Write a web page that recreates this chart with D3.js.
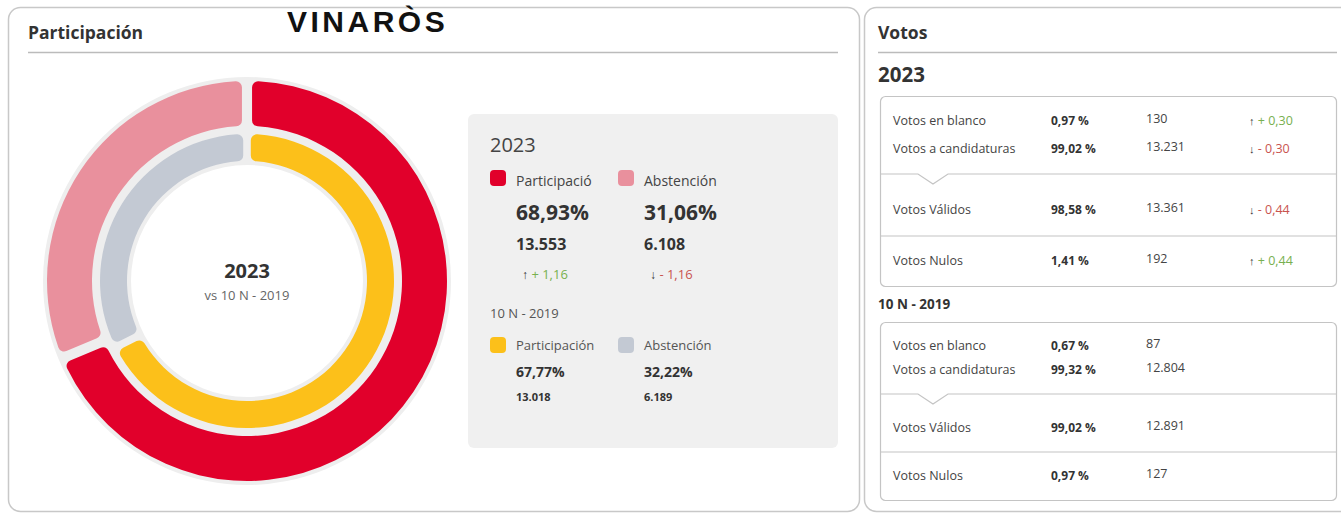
<!DOCTYPE html>
<html>
<head>
<meta charset="utf-8">
<script src="https://cdn.jsdelivr.net/npm/d3@7"></script>
<style>
  body { margin: 0; background: #fff; }
  svg { display: block; font-family: "Open Sans", sans-serif; }
</style>
</head>
<body>
<div id="chart"></div>
<script>
// --- data ---
var years = ["2023", "10 N - 2019"];
var partLabels2023 = ["Participació", "Abstención"];
var partLabels2019 = ["Participación", "Abstención"];
var part2023 = [68.93, 31.06];
var count2023 = [13553, 6108];
var partDiff = [1.16, -1.16];
var part2019 = [67.77, 32.22];
var count2019 = [13018, 6189];
var colors2023 = ["#e1002b", "#e9909d"];
var colors2019 = ["#fcc01a", "#c3c9d3"];

var votosLabels = ["Votos en blanco", "Votos a candidaturas", "Votos Válidos", "Votos Nulos"];
var votos2023Pct = [0.97, 99.02, 98.58, 1.41];
var votos2023Num = [130, 13231, 13361, 192];
var votos2023Diff = [0.30, -0.30, -0.44, 0.44];
var votos2019Pct = [0.67, 99.32, 99.02, 0.97];
var votos2019Num = [87, 12804, 12891, 127];

var W = 1341, H = 515;
var es = d3.formatLocale({decimal: ",", thousands: ".", grouping: [3], currency: ["", "€"]});
var fmtPct = es.format(".2f");
var fmtNum = es.format(",d");
var green = "#78b04f", red = "#c9544f";

var svg = d3.select("#chart").append("svg")
	.attr("width", W)
	.attr("height", H);

// panels
svg.append("rect").attr("x", 8.5).attr("y", 7.5).attr("width", 851).attr("height", 504)
	.attr("rx", 12).attr("fill", "none").attr("stroke", "#c8c8c8").attr("stroke-width", 1.5);
svg.append("rect").attr("x", 864.5).attr("y", 7.5).attr("width", 490).attr("height", 504)
	.attr("rx", 12).attr("fill", "none").attr("stroke", "#c8c8c8").attr("stroke-width", 1.5);

svg.append("text").attr("x", 28).attr("y", 39).attr("font-size", 17.5).attr("font-weight", 700)
	.attr("fill", "#333").text("Participación");
svg.append("line").attr("x1", 28).attr("x2", 838).attr("y1", 52.5).attr("y2", 52.5)
	.attr("stroke", "#bbb").attr("stroke-width", 1.5);
svg.append("text").attr("x", 287).attr("y", 32).attr("font-size", 30).attr("font-weight", 700)
	.attr("font-family", "Liberation Sans, Arial, sans-serif").attr("letter-spacing", 3.5)
	.attr("fill", "#111").text("VINARÒS");

// --- donut ---
var cx = 247, cy = 281;
var g = svg.append("g").attr("transform", "translate(" + cx + "," + cy + ")");

g.append("path")
	.attr("d", d3.arc().innerRadius(116).outerRadius(204).startAngle(0).endAngle(2 * Math.PI)())
	.attr("fill", "#eeeeee");

var pie = d3.pie().sort(null).padAngle(0.04);
var outerArc = d3.arc().innerRadius(155).outerRadius(200).cornerRadius(6);
var innerArc = d3.arc().innerRadius(120).outerRadius(147).cornerRadius(6);

g.selectAll("path.outer").data(pie(part2023)).enter().append("path")
	.attr("class", "outer")
	.attr("d", outerArc)
	.attr("fill", function(d, i) { return colors2023[i]; });
g.selectAll("path.inner").data(pie(part2019)).enter().append("path")
	.attr("class", "inner")
	.attr("d", innerArc)
	.attr("fill", function(d, i) { return colors2019[i]; });

g.append("text").attr("text-anchor", "middle").attr("y", -3).attr("font-size", 20)
	.attr("font-weight", 700).attr("fill", "#333").text(years[0]);
g.append("text").attr("text-anchor", "middle").attr("y", 19).attr("font-size", 13)
	.attr("fill", "#666").text("vs " + years[1]);

// --- legend box ---
svg.append("rect").attr("x", 468).attr("y", 114).attr("width", 370).attr("height", 334)
	.attr("rx", 6).attr("fill", "#f0f0f0");
svg.append("text").attr("x", 490).attr("y", 152).attr("font-size", 20).attr("fill", "#444").text(years[0]);

var colX = [490, 618];
partLabels2023.forEach(function(lbl, i) {
	var x = colX[i];
	svg.append("rect").attr("x", x).attr("y", 170).attr("width", 16).attr("height", 16)
		.attr("rx", 4).attr("fill", colors2023[i]);
	svg.append("text").attr("x", x + 26).attr("y", 186).attr("font-size", 14).attr("fill", "#444").text(lbl);
	svg.append("text").attr("x", x + 26).attr("y", 220).attr("font-size", 21).attr("font-weight", 700)
		.attr("fill", "#333").text(fmtPct(part2023[i]) + "%");
	svg.append("text").attr("x", x + 26).attr("y", 250).attr("font-size", 16).attr("font-weight", 700)
		.attr("fill", "#333").text(fmtNum(count2023[i]));
	var t = svg.append("text").attr("x", x + 32).attr("y", 279).attr("font-size", 13);
	t.append("tspan").attr("fill", "#333").attr("font-size", 12).attr("font-weight", 700)
		.text(partDiff[i] >= 0 ? "↑" : "↓");
	t.append("tspan").attr("fill", partDiff[i] >= 0 ? green : red)
		.text((partDiff[i] >= 0 ? " + " : " - ") + fmtPct(Math.abs(partDiff[i])));
});

svg.append("text").attr("x", 490).attr("y", 318).attr("font-size", 13).attr("fill", "#555").text(years[1]);
partLabels2019.forEach(function(lbl, i) {
	var x = colX[i];
	svg.append("rect").attr("x", x).attr("y", 337).attr("width", 16).attr("height", 16)
		.attr("rx", 4).attr("fill", colors2019[i]);
	svg.append("text").attr("x", x + 26).attr("y", 350).attr("font-size", 13).attr("fill", "#555").text(lbl);
	svg.append("text").attr("x", x + 26).attr("y", 377).attr("font-size", 14).attr("font-weight", 700)
		.attr("fill", "#333").text(fmtPct(part2019[i]) + "%");
	svg.append("text").attr("x", x + 26).attr("y", 401).attr("font-size", 11).attr("font-weight", 700)
		.attr("fill", "#333").text(fmtNum(count2019[i]));
});

// --- votos panel ---
svg.append("text").attr("x", 878).attr("y", 39).attr("font-size", 17.5).attr("font-weight", 700)
	.attr("fill", "#333").text("Votos");
svg.append("line").attr("x1", 878).attr("x2", 1337).attr("y1", 52.5).attr("y2", 52.5)
	.attr("stroke", "#bbb").attr("stroke-width", 1.5);
svg.append("text").attr("x", 878).attr("y", 82).attr("font-size", 20.5).attr("font-weight", 700)
	.attr("fill", "#333").text(years[0]);
svg.append("text").attr("x", 878).attr("y", 309).attr("font-size", 13.5).attr("font-weight", 700)
	.attr("fill", "#333").text(years[1]);

function votosBox(top, h, rowY, div1, div2, pct, num, diff) {
	var b = svg.append("g").attr("transform", "translate(880," + top + ")");
	b.append("rect").attr("x", 0.5).attr("y", 0.5).attr("width", 456).attr("height", h)
		.attr("rx", 5).attr("fill", "#fff").attr("stroke", "#c4c4c4").attr("stroke-width", 1.2);
	b.append("path")
		.attr("d", "M1," + div1 + "H38l15,10l15,-10H456")
		.attr("fill", "#fff").attr("stroke", "#c4c4c4").attr("stroke-width", 1.2);
	b.append("line").attr("x1", 1).attr("x2", 456).attr("y1", div2).attr("y2", div2)
		.attr("stroke", "#c4c4c4").attr("stroke-width", 1.2);
	votosLabels.forEach(function(lbl, i) {
		var y = rowY[i];
		b.append("text").attr("x", 13).attr("y", y).attr("font-size", 12.5).attr("fill", "#444").text(lbl);
		b.append("text").attr("x", 171).attr("y", y).attr("font-size", 12).attr("font-weight", 700)
			.attr("fill", "#333").text(fmtPct(pct[i]) + " %");
		b.append("text").attr("x", 266).attr("y", y - 2).attr("font-size", 12.5).attr("fill", "#444").text(fmtNum(num[i]));
		if (diff) {
			var t = b.append("text").attr("x", 369).attr("y", y).attr("font-size", 12.5);
			t.append("tspan").attr("fill", "#333").attr("font-size", 11).attr("font-weight", 700)
				.text(diff[i] >= 0 ? "↑" : "↓");
			t.append("tspan").attr("fill", diff[i] >= 0 ? green : red)
				.text((diff[i] >= 0 ? " + " : " - ") + fmtPct(Math.abs(diff[i])));
		}
	});
}

votosBox(96, 190, [29, 57, 118, 169], 78, 140, votos2023Pct, votos2023Num, votos2023Diff);
votosBox(322, 178, [28, 52, 110, 158], 72, 130, votos2019Pct, votos2019Num, null);
</script>
</body>
</html>
